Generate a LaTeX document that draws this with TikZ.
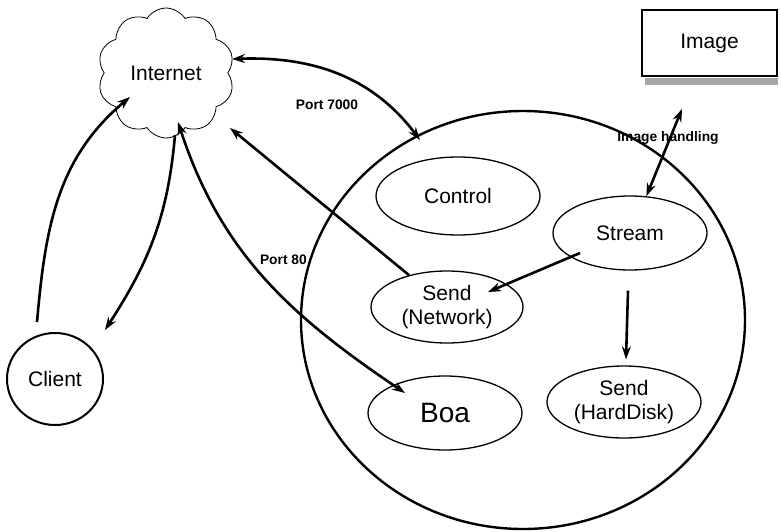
\documentclass[tikz,border=0pt]{standalone}
\usepackage{fontspec}
\setmainfont{Liberation Sans}
\usetikzlibrary{shapes.geometric,shapes.symbols,arrows.meta,calc}
\begin{document}
\begin{tikzpicture}[x=1pt,y=1pt,
  lbl/.style={font=\fontsize{21}{24}\selectfont, align=center},
  proc/.style={ellipse, draw, line width=1.3pt, inner sep=0pt, lbl},
  conn/.style={line width=2.6pt, -{Stealth[length=13pt,width=9pt]}},
  biconn/.style={line width=2.6pt, {Stealth[length=13pt,width=9pt]}-{Stealth[length=13pt,width=9pt]}},
  tag/.style={font=\bfseries\fontsize{13.8}{16}\selectfont, inner sep=0pt}]
\useasboundingbox (0,0) rectangle (781,-532);

% server circle and processes
\node[ellipse, draw, line width=2.4pt, minimum width=444pt, minimum height=418pt] (srv) at (523,-320) {};
\node[proc, minimum width=164pt, minimum height=78pt] (ctrl) at (458,-196) {Control};
\node[proc, minimum width=154pt, minimum height=74pt] (stream) at (630,-233) {Stream};
\node[proc, minimum width=152pt, minimum height=72pt] (snet) at (447,-307) {Send\\(Network)};
\node[proc, minimum width=154pt, minimum height=74pt, font=\fontsize{28}{30}\selectfont] (boa) at (445,-413) {Boa};
\node[proc, minimum width=154pt, minimum height=72pt] (shd) at (624,-402) {Send\\(HardDisk)};

% client, internet, image
\node[ellipse, draw, line width=2pt, minimum width=96pt, minimum height=92pt, inner sep=0pt, lbl] (client) at (55,-379) {Client};
\node[cloud, draw, cloud puffs=10, cloud puff arc=115, aspect=1.05, minimum width=137pt, minimum height=130pt, line width=0.8pt, inner sep=0pt, lbl] (inet) at (166,-73) {Internet};
\node[rectangle, draw, line width=1.8pt, minimum width=135pt, minimum height=66pt, lbl] (img) at (709.5,-43) {Image};
\fill[gray!70] ($(img.south west)+(4,-1)$) rectangle ($(img.south east)+(0,-8)$);

% connectors
\draw[conn] ($(client.center)+(-18,57)$) to[out=85,in=-140] ($(inet.center)+(-36,-24)$);
\draw[conn] ($(inet.center)+(9,-62)$) to[out=-95,in=57] ($(client.center)+(50,49)$);
\draw[biconn] ($(inet.center)+(12,-49)$) to[out=-72,in=146] ($(boa.center)+(-40,20)$);
\draw[conn] (snet.140) -- ($(inet.center)+(64,-55)$);
\draw[biconn] ($(inet.center)+(66,14)$) to[out=2,in=127] ($(srv.center)+(-103,180)$);
\draw[conn] ($(stream.center)+(-50,-20)$) -- ($(snet.center)+(41,15)$);
\draw[conn] ($(stream.south)+(-2,-20)$) -- ($(shd.north)+(2,6)$);
\draw[biconn] (stream.66) -- ($(img.south)+(-27.5,-32)$);

% labels
\node[tag] (p7000) at (327,-105) {Port 7000};
\node[tag, anchor=east] (p80) at (307,-260) {Port 80};
\node[tag] (ih) at (668,-138) {Image handling};
\end{tikzpicture}
\end{document}
